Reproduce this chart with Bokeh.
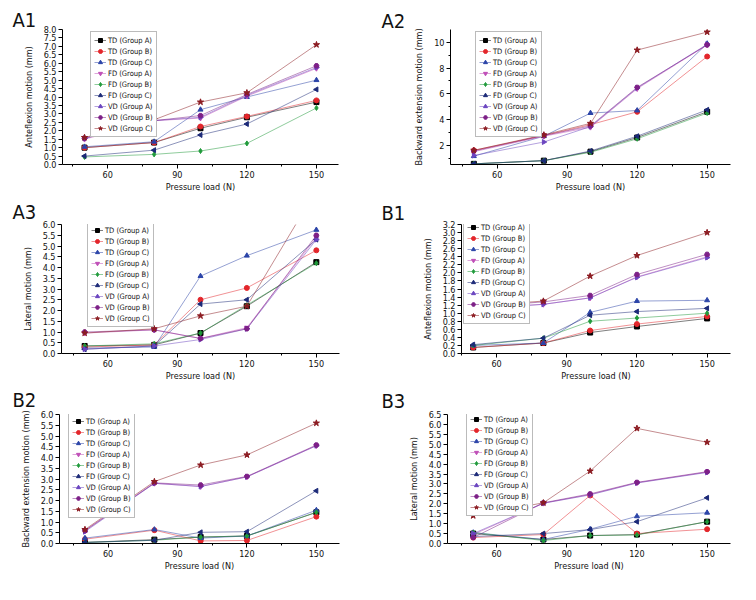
import numpy as np
from bokeh.plotting import figure
from bokeh.layouts import column, row
from bokeh.models import FixedTicker, Range1d, PrintfTickFormatter
from bokeh.embed import file_html
from bokeh.resources import INLINE

FONT = "DejaVu Sans Condensed"

pressure = [50, 80, 100, 120, 150]
x_ticks = [60, 90, 120, 150]
x_minor = [45, 75, 105, 135]

names = ["TD (Group A)", "TD (Group B)", "TD (Group C)",
         "FD (Group A)", "FD (Group B)", "FD (Group C)",
         "VD (Group A)", "VD (Group B)", "VD (Group C)"]
colors = ["#000000", "#e3262b", "#2b44a8",
          "#c04fb8", "#1f9a3a", "#1c2a78",
          "#6b45c0", "#7d2087", "#8c1c22"]
markers = ["square", "circle", "triangle",
           "inverted_triangle", "diamond", "triangle",
           "triangle", "hex", "star"]
angles = [0, 0, 0, 0, 0, np.pi / 2, -np.pi / 2, 0, 0]

# A1: Anteflexion motion (mm)
a1 = [
    [1.0, 1.3, 2.15, 2.8, 3.7],
    [1.0, 1.3, 2.25, 2.85, 3.8],
    [1.05, 1.35, 3.25, 4.0, 5.0],
    [1.5, 2.6, 2.75, 4.05, 5.7],
    [0.45, 0.6, 0.8, 1.25, 3.35],
    [0.5, 0.85, 1.75, 2.4, 4.45],
    [1.55, 2.6, 2.8, 4.1, 5.75],
    [1.55, 2.6, 2.9, 4.15, 5.85],
    [1.6, 2.65, 3.7, 4.25, 7.1],
]
# A2: Backward extension motion (mm)
a2 = [
    [0.55, 0.8, 1.5, 2.6, 4.6],
    [1.6, 2.75, 3.6, 4.6, 8.9],
    [1.15, 2.7, 4.5, 4.7, 9.9],
    [1.5, 2.7, 3.4, 6.4, 9.8],
    [0.55, 0.8, 1.45, 2.5, 4.5],
    [0.55, 0.8, 1.55, 2.7, 4.75],
    [1.2, 2.25, 3.45, 6.45, 9.85],
    [1.55, 2.75, 3.5, 6.5, 9.8],
    [1.6, 2.8, 3.7, 9.4, 10.8],
]
# A3: Lateral motion (mm)
a3 = [
    [0.35, 0.4, 0.95, 2.2, 4.25],
    [0.3, 0.4, 2.5, 3.05, 4.8],
    [0.25, 0.3, 3.6, 4.55, 5.75],
    [0.95, 1.1, 0.7, 1.2, 5.4],
    [0.35, 0.45, 0.95, 2.25, 4.2],
    [0.2, 0.35, 2.3, 2.5, 5.3],
    [0.2, 0.35, 0.65, 1.15, 5.3],
    [1.0, 1.1, 0.7, 1.15, 5.5],
    [0.95, 1.15, 1.75, 2.2, 7.6],
]
# B1: Anteflexion motion (mm)
b1 = [
    [0.15, 0.26, 0.52, 0.67, 0.87],
    [0.15, 0.26, 0.57, 0.73, 0.92],
    [0.2, 0.26, 1.02, 1.3, 1.32],
    [1.12, 1.22, 1.38, 1.9, 2.4],
    [0.2, 0.38, 0.8, 0.88, 1.0],
    [0.22, 0.38, 0.95, 1.04, 1.12],
    [1.1, 1.22, 1.38, 1.89, 2.38],
    [1.15, 1.28, 1.44, 1.96, 2.46],
    [1.18, 1.3, 1.92, 2.43, 3.0],
]
# B2: Backward extension motion (mm)
b2 = [
    [0.05, 0.18, 0.3, 0.35, 1.45],
    [0.2, 0.62, 0.12, 0.14, 1.25],
    [0.25, 0.65, 0.25, 0.35, 1.55],
    [0.6, 2.8, 2.65, 3.1, 4.55],
    [0.05, 0.15, 0.3, 0.35, 1.45],
    [0.05, 0.15, 0.52, 0.55, 2.45],
    [0.55, 2.8, 2.65, 3.1, 4.55],
    [0.6, 2.82, 2.72, 3.12, 4.58],
    [0.65, 2.88, 3.65, 4.12, 5.6],
]
# B3: Lateral motion (mm)
b3 = [
    [0.5, 0.2, 0.4, 0.45, 1.1],
    [0.3, 0.45, 2.42, 0.5, 0.72],
    [0.55, 0.2, 0.72, 1.37, 1.55],
    [0.45, 2.03, 2.47, 3.06, 3.6],
    [0.55, 0.15, 0.4, 0.43, 1.1],
    [0.35, 0.5, 0.7, 1.1, 2.3],
    [0.5, 2.03, 2.45, 3.05, 3.58],
    [0.3, 2.05, 2.5, 3.08, 3.62],
    [1.4, 2.05, 3.65, 5.8, 5.1],
]

a1_yticks = [i * 0.5 for i in range(17)]
a2_yticks = [2, 4, 6, 8, 10]
a2_yminor = [1, 3, 5, 7, 9]
a3_yticks = [i * 0.5 for i in range(13)]
b1_yticks = [i * 0.2 for i in range(17)]
b2_yticks = [i * 0.5 for i in range(13)]
b3_yticks = [i * 0.5 for i in range(14)]


def panel(tag, data, ylabel, yr, yticks, yminor, yfmt, xr, w, h,
          bl, br, bt, bb, leg_x, tag_x, tag_s):
    p = figure(width=w, height=h, output_backend="svg", toolbar_location=None,
               x_range=Range1d(*xr), y_range=Range1d(*yr),
               min_border_left=bl, min_border_right=br,
               min_border_top=bt, min_border_bottom=bb)
    p.outline_line_color = None
    p.xgrid.visible = False
    p.ygrid.visible = False
    p.background_fill_color = "white"
    p.border_fill_color = "white"
    # panel tag as a title to the upper left
    p.title.text = tag
    p.title.align = "left"
    p.title.offset = -(bl - tag_x)
    p.title.text_font = FONT
    p.title.text_font_size = "20px"
    p.title.text_font_style = "normal"
    p.title.text_color = "#111111"
    p.title.standoff = tag_s
    for i in range(9):
        p.line(pressure, data[i], line_color=colors[i], line_width=1,
               line_alpha=0.5, legend_label=names[i])
        p.scatter(pressure, data[i], marker=markers[i], angle=angles[i],
                  size=5 if markers[i] != "star" else 6.5,
                  fill_color=colors[i], line_color=colors[i],
                  legend_label=names[i])
    for ax in (p.xaxis[0], p.yaxis[0]):
        ax.axis_line_color = "black"
        ax.major_tick_line_color = "black"
        ax.minor_tick_line_color = "black"
        ax.major_tick_in = 0
        ax.major_tick_out = 4
        ax.minor_tick_in = 0
        ax.minor_tick_out = 2
        ax.major_label_text_font = FONT
        ax.major_label_text_font_size = "9px"
        ax.major_label_text_color = "#111111"
        ax.axis_label_text_font = FONT
        ax.axis_label_text_font_size = "9px"
        ax.axis_label_text_font_style = "normal"
        ax.axis_label_text_color = "#111111"
    p.xaxis[0].ticker = FixedTicker(ticks=x_ticks, minor_ticks=x_minor)
    p.xaxis[0].axis_label = "Pressure load (N)"
    p.xaxis[0].major_label_standoff = 2
    p.xaxis[0].axis_label_standoff = 1
    p.yaxis[0].ticker = FixedTicker(ticks=yticks, minor_ticks=yminor)
    p.yaxis[0].formatter = PrintfTickFormatter(format=yfmt)
    p.yaxis[0].axis_label = ylabel
    p.yaxis[0].major_label_standoff = 2
    p.yaxis[0].axis_label_standoff = 7
    lg = p.legend[0]
    lg.label_text_font = FONT
    lg.label_text_font_size = "7.5px"
    lg.label_text_color = "#111111"
    lg.glyph_width = 12
    lg.glyph_height = 10
    lg.label_height = 10
    lg.label_standoff = 2
    lg.spacing = 1
    lg.padding = 3
    lg.margin = 0
    lg.border_line_color = "#777777"
    lg.border_line_width = 1
    lg.background_fill_alpha = 1.0
    frame_h = h - bt - bb
    LH = 108
    lg.location = (leg_x, frame_h - LH)
    return p


pA1 = panel("A1", a1, "Anteflexion motion (mm)", (0, 8), a1_yticks, [], "%.1f",
            (40.5, 159.5), 378, 197, 62, 40, 29, 33, 28, 12, -5)
pA2 = panel("A2", a2, "Backward extension motion (mm)", (0.5, 11), a2_yticks, a2_yminor, "%d",
            (40, 160), 370, 197, 72, 18, 29, 33, 25, 3, -6)
pA3 = panel("A3", a3, "Lateral motion (mm)", (0, 6), a3_yticks, [], "%.1f",
            (40, 160), 378, 186, 61, 39, 23, 29, 26, 12, 1)
pB1 = panel("B1", b1, "Anteflexion motion (mm)", (0, 3.2), b1_yticks, [], "%.1f",
            (45, 160), 370, 186, 83, 18, 21, 28, 2, 3, -1)
pB2 = panel("B2", b2, "Backward extension motion (mm)", (0, 6), b2_yticks, [], "%.1f",
            (39, 160), 378, 209, 59, 39, 27, 49, 9, 12, 5)
pB3 = panel("B3", b3, "Lateral motion (mm)", (0, 6.5), b3_yticks, [], "%.1f",
            (39, 160), 370, 209, 69, 18, 26, 48, 19, 3, 4)

layout = column(row(pA1, pA2), row(pA3, pB1), row(pB2, pB3))
open("out.html", "w").write(file_html(layout, INLINE))
